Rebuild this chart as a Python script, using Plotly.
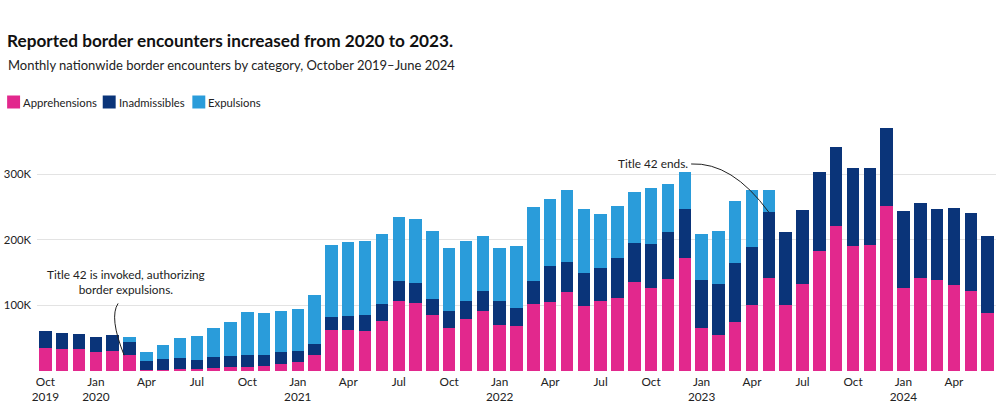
import plotly.graph_objects as go

# Months Oct 2019 .. Jun 2024
mon_names = ["Jan", "Feb", "Mar", "Apr", "May", "Jun", "Jul", "Aug", "Sep", "Oct", "Nov", "Dec"]
months = []
y, m = 2019, 10
while (y, m) <= (2024, 6):
    months.append(f"{mon_names[m-1]} {y}")
    m += 1
    if m > 12:
        m, y = 1, y + 1

# values in thousands
apprehensions = [35.6, 33.6, 33.6, 29.0, 30.5, 24.0, 1.5, 1.5, 2.5, 3.6, 4.6, 6.6,
                 5.6, 7.1, 10.7, 13.2, 24.9, 62.1, 63.1, 61.0, 75.8, 106.4, 103.3, 85.0,
                 66.2, 78.9, 91.1, 70.2, 68.2, 102.3, 104.8, 121.1, 99.7, 106.4, 110.9, 135.4,
                 126.7, 140.0, 172.5, 65.1, 55.5, 74.3, 101.3, 141.5, 101.3, 133.3, 182.7, 220.4,
                 190.8, 192.4, 251.9, 126.2, 142.0, 138.9, 131.3, 121.6, 88.5]
inadmissibles = [25.4, 23.9, 22.4, 23.0, 24.0, 20.8, 13.3, 16.8, 16.8, 13.2, 16.3, 15.8,
                 19.4, 17.9, 18.3, 17.3, 15.8, 19.8, 20.4, 24.0, 26.5, 30.5, 31.1, 24.4,
                 24.9, 28.5, 31.5, 36.2, 27.5, 34.6, 55.0, 45.8, 49.9, 50.9, 61.6, 59.5,
                 66.4, 71.7, 74.8, 73.3, 77.8, 90.6, 88.0, 101.2, 110.4, 112.0, 120.6, 121.6,
                 118.6, 117.0, 119.1, 117.1, 114.5, 107.4, 117.0, 119.6, 116.6]
expulsions = [0, 0, 0, 0, 0, 7.6, 14.7, 21.9, 30.6, 36.1, 44.2, 51.9,
              65.0, 64.0, 63.0, 64.7, 74.8, 110.0, 112.9, 113.0, 105.8, 97.2, 96.6, 103.8,
              96.2, 90.6, 83.0, 80.4, 94.6, 113.5, 102.3, 108.4, 97.2, 81.4, 78.9, 77.4,
              85.7, 73.8, 55.5, 70.8, 80.4, 94.6, 87.0, 32.6, 0, 0, 0, 0,
              0, 0, 0, 0, 0, 0, 0, 0, 0]

series_names = ["Apprehensions", "Inadmissibles", "Expulsions"]
series_colors = ["#E2288D", "#0A3479", "#2A9CDA"]
series_values = [apprehensions, inadmissibles, expulsions]

tick_idx = list(range(0, len(months), 3))
tick_vals = [months[i] for i in tick_idx]
tick_text = []
for i in tick_idx:
    mn, yr = months[i].split()
    tick_text.append(f"{mn}<br>{yr}" if (mn == "Jan" or i == 0) else mn)

y_tick_vals = [100, 200, 300]
y_tick_text = ["100K", "200K", "300K"]

FONT = "Lato"
L, R, T, B = 33, 4, 125, 39
W, H = 1000, 410
PW, PH = W - L - R, H - T - B

def px(xp):
    return (xp - L) / PW

def py(yp):
    return (H - B - yp) / PH

fig = go.Figure()
for name, col, vals in zip(series_names, series_colors, series_values):
    fig.add_trace(go.Bar(x=months, y=vals, name=name, marker=dict(color=col, line=dict(width=0)),
                         showlegend=False))

annotations = [
    dict(text="<b>Reported border encounters increased from 2020 to 2023.</b>", x=px(1), y=py(41),
         xref="paper", yref="paper", xanchor="left", yanchor="middle", showarrow=False,
         font=dict(family=FONT, size=17.2, color="#111")),
    dict(text="Monthly nationwide border encounters by category, October 2019–June 2024", x=px(2), y=py(65),
         xref="paper", yref="paper", xanchor="left", yanchor="middle", showarrow=False,
         font=dict(family=FONT, size=13, color="#222")),
    dict(text="Title 42 is invoked, authorizing<br>border expulsions.", x=4.8, y=136,
         xref="x", yref="y", xanchor="center", yanchor="middle", showarrow=False,
         font=dict(family=FONT, size=11.8, color="#222")),
    dict(text="Title 42 ends.", x=38.3, y=316,
         xref="x", yref="y", xanchor="right", yanchor="middle", showarrow=False,
         font=dict(family=FONT, size=11.8, color="#222")),
]

shapes = [
    dict(type="path", xref="x", yref="y", path="M 4.32,103 Q 3.77,82 4.68,24",
         line=dict(color="#222", width=1)),
    dict(type="path", xref="x", yref="y", path="M 38.38,315.6 Q 40.81,318.6 42.99,242.3",
         line=dict(color="#222", width=1)),
]

# manual legend
leg_x = [3, 99, 189]
for name, col, lx in zip(series_names, series_colors, leg_x):
    shapes.append(dict(type="rect", xref="paper", yref="paper", x0=px(lx), x1=px(lx + 13),
                       y0=py(108.5), y1=py(95.5), fillcolor=col, line=dict(width=0)))
    annotations.append(dict(text=name, x=px(lx + 14), y=py(102), xref="paper", yref="paper",
                            xanchor="left", yanchor="middle", showarrow=False,
                            font=dict(family=FONT, size=11.3, color="#222")))

fig.update_layout(
    barmode="stack",
    bargap=0.26,
    width=W, height=H,
    margin=dict(l=L, r=R, t=T, b=B, pad=0),
    plot_bgcolor="white", paper_bgcolor="white",
    font=dict(family=FONT, size=12, color="#222"),
    xaxis=dict(type="category", tickmode="array", tickvals=tick_vals, ticktext=tick_text,
               showgrid=False, showline=False, ticks="", range=[-0.5, len(months) - 0.5],
               ticklabelstandoff=2,
               tickfont=dict(family=FONT, size=11.8, color="#222")),
    yaxis=dict(range=[0, 375], tickmode="array", tickvals=y_tick_vals, ticktext=y_tick_text,
               showgrid=True, gridcolor="#e3e3e3", gridwidth=1, zeroline=False, showline=False,
               ticks="", ticklabelstandoff=5, tickfont=dict(family=FONT, size=11.3, color="#222")),
    annotations=annotations,
    shapes=shapes,
    showlegend=False,
)

fig.write_html("out.html", config={"displayModeBar": False},
               post_script="document.body.style.margin='0';document.body.style.overflow='hidden';")
